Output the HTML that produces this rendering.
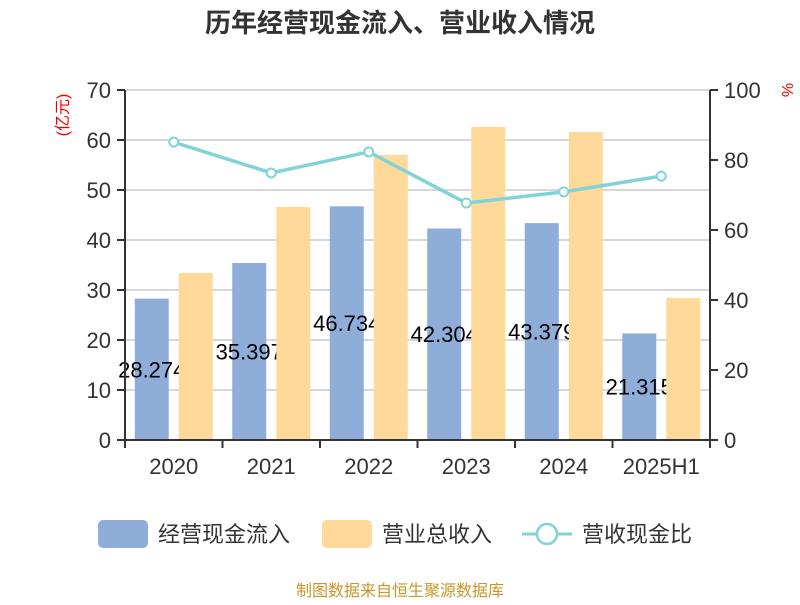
<!DOCTYPE html>
<html><head><meta charset="utf-8"><style>
body{margin:0;background:#fff;}
svg text{font-family:"Liberation Sans","Noto Sans CJK SC",sans-serif;}
</style></head><body>
<svg id="chart" width="800" height="600" viewBox="0 0 800 600">
<text x="400" y="32" text-anchor="middle" font-size="26" font-weight="bold" fill="#333">历年经营现金流入、营业收入情况</text>
<text transform="translate(68,115) rotate(-90)" text-anchor="middle" font-size="16" fill="#e00">(亿元)</text>
<text transform="translate(782,90) rotate(90)" text-anchor="middle" font-size="16" fill="#e00">%</text>
<g id="grid"></g><g id="bars"></g><g id="axes"></g><g id="line"></g>
<g>
<rect x="98" y="520" width="50" height="28" rx="5" fill="#8eadd9"/>
<text x="158" y="542" font-size="22" fill="#333">经营现金流入</text>
<rect x="322" y="520" width="50" height="28" rx="5" fill="#fed999"/>
<text x="382" y="542" font-size="22" fill="#333">营业总收入</text>
<line x1="522" y1="534" x2="572" y2="534" stroke="#82d3d6" stroke-width="3"/>
<circle cx="547" cy="534" r="10" fill="#fff" stroke="#82d3d6" stroke-width="2.5"/>
<text x="582" y="542" font-size="22" fill="#333">营收现金比</text>
</g>
<text x="400" y="596" text-anchor="middle" font-size="16" fill="#c8962a">制图数据来自恒生聚源数据库</text>
</svg>
<script>
const categories=["2020","2021","2022","2023","2024","2025H1"];
const cashInflow=[28.274,35.397,46.734,42.304,43.379,21.315];
const cashLabels=["28.274","35.397","46.734","42.304","43.379","21.315"];
const revenue=[33.4,46.6,57.0,62.6,61.6,28.4];
const ratio=[85.1,76.3,82.3,67.7,70.9,75.4];
const leftTicks=[0,10,20,30,40,50,60,70];
const rightTicks=[0,20,40,60,80,100];
const NS="http://www.w3.org/2000/svg";
const X0=125,X1=710,Y0=440,Y1=90;
const band=(X1-X0)/categories.length;
const xc=i=>X0+band*(i+0.5);
const yL=v=>Y0-(v/70)*(Y0-Y1);
const yR=v=>Y0-(v/100)*(Y0-Y1);
function mk(tag,attrs,parent,txt){const e=document.createElementNS(NS,tag);for(const k in attrs)e.setAttribute(k,attrs[k]);if(txt!==undefined)e.textContent=txt;document.getElementById(parent).appendChild(e);return e;}
leftTicks.forEach(t=>{
 const g=mk('line',{x1:X0,x2:X1,y1:yL(t),y2:yL(t),stroke:'#ccc','stroke-width':1.5},'grid');
 
 
 const tk=mk('line',{x1:X0-8,x2:X0,y1:yL(t),y2:yL(t),stroke:'#333','stroke-width':2},'axes');
 
 
 const l=mk('text',{x:X0-14,y:yL(t)+8,'text-anchor':'end','font-size':22,fill:'#333'},'axes',String(t));
 
 
});
rightTicks.forEach(t=>{
 const tk=mk('line',{x1:X1,x2:X1+8,y1:yR(t),y2:yR(t),stroke:'#333','stroke-width':2},'axes');
 
 
 const l=mk('text',{x:X1+14,y:yR(t)+8,'font-size':22,fill:'#333'},'axes',String(t));
 
 
});
let a=mk('line',{x1:X0,x2:X0,y1:Y1,y2:Y0,stroke:'#333','stroke-width':2},'axes');


a=mk('line',{x1:X1,x2:X1,y1:Y1,y2:Y0,stroke:'#333','stroke-width':2},'axes');


a=mk('line',{x1:X0,x2:X1,y1:Y0,y2:Y0,stroke:'#333','stroke-width':2},'axes');


for(let i=0;i<=categories.length;i++){
 const t=mk('line',{x1:X0+band*i,x2:X0+band*i,y1:Y0,y2:Y0+8,stroke:'#333','stroke-width':2},'axes');
 
 
}
categories.forEach((c,i)=>{
 const l=mk('text',{x:xc(i),y:Y0+34,'text-anchor':'middle','font-size':22,fill:'#333'},'axes',c);
 
 
});
const bw=34;
categories.forEach((c,i)=>{
 const b=mk('rect',{x:xc(i)-22-bw/2,y:yL(cashInflow[i]),width:bw,height:Y0-yL(cashInflow[i]),fill:'#8eadd9'},'bars');
 
 
 const l=mk('text',{x:xc(i)-22,y:(yL(cashInflow[i])+Y0)/2+8,'text-anchor':'middle','font-size':22,fill:'#000'},'bars',cashLabels[i]);
 
 
});
categories.forEach((c,i)=>{
 const b=mk('rect',{x:xc(i)+22-bw/2,y:yL(revenue[i]),width:bw,height:Y0-yL(revenue[i]),fill:'#fed999'},'bars');
 
 
});
const pl=mk('polyline',{points:ratio.map((v,i)=>xc(i)+','+yR(v)).join(' '),fill:'none',stroke:'#82d3d6','stroke-width':3.5},'line');


ratio.forEach((v,i)=>{
 const p=mk('circle',{cx:xc(i),cy:yR(v),r:4.5,fill:'#fff',stroke:'#82d3d6','stroke-width':2},'line');
 
 
});
</script>
</body></html>
